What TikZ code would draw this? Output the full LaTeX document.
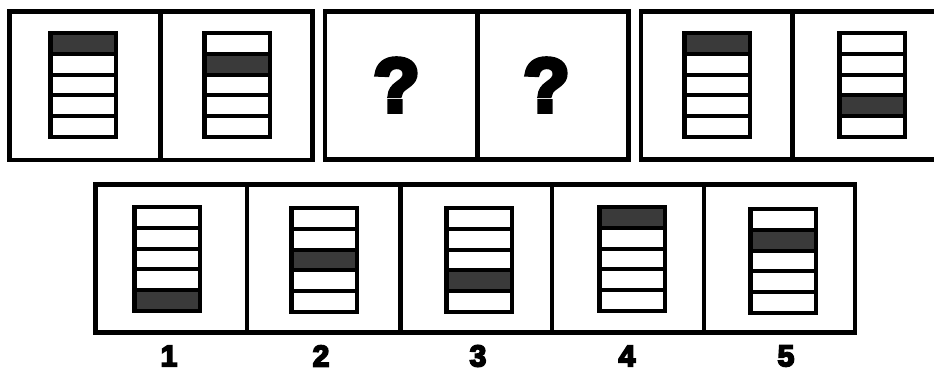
\documentclass[tikz,border=0pt]{standalone}
\usepackage{fontspec}
\newfontfamily\heavyfont[BoldFeatures={FakeBold=6}]{Liberation Sans}
\definecolor{slotdark}{HTML}{3A3A3A}
\newcommand{\ladderbox}[3]{%
  \fill[black] (#1,#2) rectangle ++(70,108);
  \foreach \i in {1,...,5}{%
    \ifnum\i=#3\relax
      \fill[slotdark] ($(#1,#2)+(5,{4+(\i-1)*20.8})$) rectangle ++(61,16.8);
    \else
      \fill[white] ($(#1,#2)+(5,{4+(\i-1)*20.8})$) rectangle ++(61,16.8);
    \fi
  }%
}
\usetikzlibrary{calc}
\begin{document}
\begin{tikzpicture}[x=1pt,y=-1pt,
  frame/.style={draw=black,line width=4.3pt},
  qmark/.style={font=\heavyfont\bfseries\fontsize{76}{76}\selectfont,inner sep=0pt},
  numlabel/.style={font=\heavyfont\bfseries\fontsize{30}{30}\selectfont,inner sep=0pt}]
\useasboundingbox (0,0) rectangle (934,371);
\clip (0,0) rectangle (934,371);
\fill[white] (0,0) rectangle (934,371);
% top group 1
\draw[frame] (9.5,11.5) rectangle (312.5,160);
\draw[frame] (160.5,11.5) -- (160.5,160);
% top group 2
\draw[frame] (325,11.5) rectangle (628.5,159.5);
\draw[frame] (477.5,11.5) -- (477.5,159.5);
% top group 3
\draw[frame] (641,11.5) rectangle (944,159.5);
\draw[frame] (792.5,11.5) -- (792.5,159.5);
% bottom group
\draw[frame] (95.5,184.5) rectangle (855,332.5);
\foreach \xx in {247,400.5,551.7,704}{\draw[frame] (\xx,184.5) -- (\xx,332.5);}
% ladders
\ladderbox{48}{31}{1}
\ladderbox{202}{31}{2}
\ladderbox{682}{31}{1}
\ladderbox{837}{31}{4}
\ladderbox{132}{205}{5}
\ladderbox{289}{206}{3}
\ladderbox{444}{206}{4}
\ladderbox{597}{205}{1}
\ladderbox{748}{207}{2}
% question marks
\node[qmark] (q1) at (396.5,85) {?};
\node[qmark] (q2) at (546.5,85) {?};
% labels
\node[numlabel] (l1) at (169,356) {1};
\node[numlabel] (l2) at (321,356) {2};
\node[numlabel] (l3) at (478,356) {3};
\node[numlabel] (l4) at (627,356) {4};
\node[numlabel] (l5) at (786,356) {5};
\end{tikzpicture}
\end{document}
